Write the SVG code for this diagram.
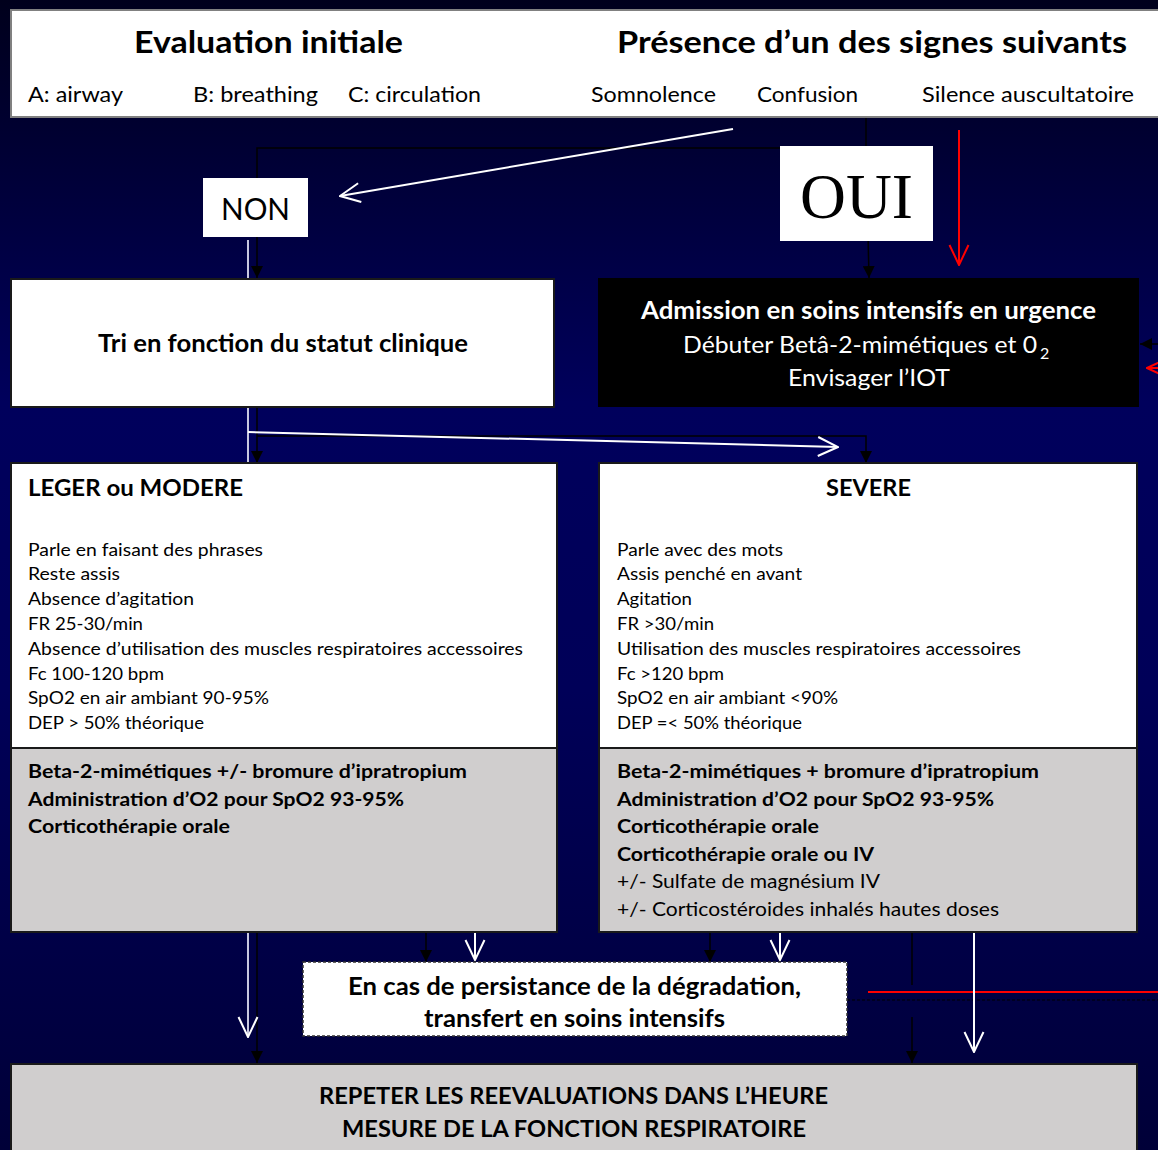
<svg xmlns="http://www.w3.org/2000/svg" width="1158" height="1150" viewBox="0 0 1158 1150">
<style>
.t{font-family:Lato,"Liberation Sans",sans-serif;fill:#000}
.b{font-weight:bold}
.w{fill:#fff}
.box{fill:#fff;stroke:#1a1a1a;stroke-width:2}
.gray{fill:#d0cece;stroke:#1a1a1a;stroke-width:2}
.blk{stroke:#000;stroke-width:1.5;fill:none}
.wl{stroke:#fff;stroke-width:2;fill:none}
.rl{stroke:#ff0000;stroke-width:2;fill:none}
</style>
<defs>
<linearGradient id="bg" x1="0" y1="0" x2="0" y2="1">
<stop offset="0" stop-color="#00001c"/>
<stop offset="0.35" stop-color="#00005c"/>
<stop offset="0.6" stop-color="#000058"/>
<stop offset="1" stop-color="#000038"/>
</linearGradient>
<marker id="ab" viewBox="0 0 12 12" refX="12" refY="6" markerWidth="12" markerHeight="12" markerUnits="userSpaceOnUse" orient="auto">
<path d="M0,0 L12,6 L0,12 Z" fill="#000"/>
</marker>
<marker id="aw" viewBox="0 0 22 22" refX="21" refY="11" markerWidth="22" markerHeight="22" markerUnits="userSpaceOnUse" orient="auto">
<path d="M1,1.5 L21,11 L1,20.5" fill="none" stroke="#fff" stroke-width="2"/>
</marker>
<marker id="ar" viewBox="0 0 22 22" refX="21" refY="11" markerWidth="22" markerHeight="22" markerUnits="userSpaceOnUse" orient="auto">
<path d="M1,1.5 L21,11 L1,20.5" fill="none" stroke="#ff0000" stroke-width="2"/>
</marker>
</defs>
<rect x="0" y="0" width="1158" height="1150" fill="url(#bg)"/>

<g id="connectors">
<polyline class="blk" points="866,117 866,148 257,148 257,178"/>
<line class="blk" x1="866" y1="148" x2="869" y2="278" marker-end="url(#ab)"/>
<line class="blk" x1="257" y1="237" x2="257" y2="278" marker-end="url(#ab)"/>
<line x1="248" y1="240" x2="248" y2="278" stroke="#c8c8e0" stroke-width="2"/>
<line class="wl" x1="733" y1="129" x2="340" y2="196" marker-end="url(#aw)"/>
<line class="rl" x1="959" y1="130" x2="959" y2="265" marker-end="url(#ar)"/>
<line class="blk" x1="1158" y1="344" x2="1140" y2="344" marker-end="url(#ab)"/>
<line class="rl" x1="1170" y1="368" x2="1147" y2="368" marker-end="url(#ar)"/>
<line class="blk" x1="257" y1="407" x2="257" y2="463" marker-end="url(#ab)"/>
<polyline class="blk" points="257,436 866,436 866,463" marker-end="url(#ab)"/>
<line x1="248" y1="407" x2="248" y2="463" stroke="#c8c8e0" stroke-width="2"/>
<line class="wl" x1="248" y1="432" x2="838" y2="447" marker-end="url(#aw)"/>
<line class="blk" x1="257" y1="932" x2="257" y2="1063" marker-end="url(#ab)"/>
<line x1="248" y1="932" x2="248" y2="1037" stroke="#c8c8e0" stroke-width="2" marker-end="url(#aw)"/>
<line class="blk" x1="426" y1="932" x2="426" y2="962" marker-end="url(#ab)"/>
<line class="wl" x1="475" y1="932" x2="475" y2="960" marker-end="url(#aw)"/>
<line class="blk" x1="710" y1="932" x2="710" y2="962" marker-end="url(#ab)"/>
<line class="wl" x1="780" y1="932" x2="780" y2="960" marker-end="url(#aw)"/>
<line class="blk" x1="912" y1="932" x2="912" y2="985"/>
<line class="blk" x1="912" y1="1017" x2="912" y2="1063" marker-end="url(#ab)"/>
<line x1="847" y1="1000" x2="1158" y2="1000" stroke="#000" stroke-width="1" stroke-dasharray="3,2"/>
<line class="rl" x1="868" y1="992" x2="1158" y2="992"/>
<line class="wl" x1="974" y1="932" x2="974" y2="1052" marker-end="url(#aw)"/>
</g>

<g id="evaluation">
<rect x="11" y="10" width="1160" height="107" fill="#fff" stroke="#808080" stroke-width="2"/>
<text class="t b" x="134" y="53" font-size="31" textLength="269" lengthAdjust="spacingAndGlyphs">Evaluation initiale</text>
<text class="t b" x="617" y="53" font-size="31" textLength="510" lengthAdjust="spacingAndGlyphs">Présence d’un des signes suivants</text>
<text class="t" x="28" y="102" font-size="22" textLength="95" lengthAdjust="spacingAndGlyphs">A: airway</text>
<text class="t" x="193" y="102" font-size="22" textLength="125" lengthAdjust="spacingAndGlyphs">B: breathing</text>
<text class="t" x="348" y="102" font-size="22" textLength="133" lengthAdjust="spacingAndGlyphs">C: circulation</text>
<text class="t" x="591" y="102" font-size="22" textLength="125" lengthAdjust="spacingAndGlyphs">Somnolence</text>
<text class="t" x="757" y="102" font-size="22" textLength="101" lengthAdjust="spacingAndGlyphs">Confusion</text>
<text class="t" x="922" y="102" font-size="22" textLength="212" lengthAdjust="spacingAndGlyphs">Silence auscultatoire</text>
</g>

<g id="non">
<rect x="203" y="178" width="105" height="59" fill="#fff"/>
<text class="t" x="221" y="220" font-size="30" textLength="69" lengthAdjust="spacingAndGlyphs">NON</text>
</g>

<g id="oui">
<rect x="780" y="146" width="153" height="95" fill="#fff"/>
<text x="800" y="218" font-family="'Liberation Serif',serif" font-size="64" textLength="113" lengthAdjust="spacingAndGlyphs">OUI</text>
</g>

<g id="tri">
<rect class="box" x="11" y="279" width="543" height="128"/>
<text class="t b" x="98" y="352" font-size="24" textLength="370" lengthAdjust="spacingAndGlyphs">Tri en fonction du statut clinique</text>
</g>

<g id="admission">
<rect x="598" y="278" width="541" height="129" fill="#000"/>
<text class="t b w" x="641" y="319" font-size="24" textLength="455" lengthAdjust="spacingAndGlyphs">Admission en soins intensifs en urgence</text>
<text class="t w" x="683" y="353" font-size="24" textLength="354" lengthAdjust="spacingAndGlyphs">Débuter Betâ-2-mimétiques et 0</text>
<text class="t w" x="1040" y="359" font-size="16">2</text>
<text class="t w" x="788" y="386" font-size="24" textLength="162" lengthAdjust="spacingAndGlyphs">Envisager l’IOT</text>
</g>

<g id="leger">
<rect class="box" x="11" y="463" width="546" height="285"/>
<rect class="gray" x="11" y="748" width="546" height="184"/>
<text class="t b" x="28" y="496" font-size="22" textLength="215" lengthAdjust="spacingAndGlyphs">LEGER ou MODERE</text>
<text class="t" x="28" y="556" font-size="18" textLength="235" lengthAdjust="spacingAndGlyphs">Parle en faisant des phrases</text>
<text class="t" x="28" y="580" font-size="18" textLength="92" lengthAdjust="spacingAndGlyphs">Reste assis</text>
<text class="t" x="28" y="605" font-size="18" textLength="166" lengthAdjust="spacingAndGlyphs">Absence d’agitation</text>
<text class="t" x="28" y="630" font-size="18" textLength="115" lengthAdjust="spacingAndGlyphs">FR 25-30/min</text>
<text class="t" x="28" y="655" font-size="18" textLength="495" lengthAdjust="spacingAndGlyphs">Absence d’utilisation des muscles respiratoires accessoires</text>
<text class="t" x="28" y="680" font-size="18" textLength="136" lengthAdjust="spacingAndGlyphs">Fc 100-120 bpm</text>
<text class="t" x="28" y="704" font-size="18" textLength="241" lengthAdjust="spacingAndGlyphs">SpO2 en air ambiant 90-95%</text>
<text class="t" x="28" y="729" font-size="18" textLength="176" lengthAdjust="spacingAndGlyphs">DEP &gt; 50% théorique</text>
<text class="t b" x="28" y="778" font-size="19" textLength="439" lengthAdjust="spacingAndGlyphs">Beta-2-mimétiques +/- bromure d’ipratropium</text>
<text class="t b" x="28" y="806" font-size="19" textLength="376" lengthAdjust="spacingAndGlyphs">Administration d’O2 pour SpO2 93-95%</text>
<text class="t b" x="28" y="833" font-size="19" textLength="202" lengthAdjust="spacingAndGlyphs">Corticothérapie orale</text>
</g>

<g id="severe">
<rect class="box" x="599" y="463" width="538" height="285"/>
<rect class="gray" x="599" y="748" width="538" height="184"/>
<text class="t b" x="826" y="496" font-size="22" textLength="85" lengthAdjust="spacingAndGlyphs">SEVERE</text>
<text class="t" x="617" y="556" font-size="18" textLength="166" lengthAdjust="spacingAndGlyphs">Parle avec des mots</text>
<text class="t" x="617" y="580" font-size="18" textLength="185" lengthAdjust="spacingAndGlyphs">Assis penché en avant</text>
<text class="t" x="617" y="605" font-size="18" textLength="75" lengthAdjust="spacingAndGlyphs">Agitation</text>
<text class="t" x="617" y="630" font-size="18" textLength="97" lengthAdjust="spacingAndGlyphs">FR &gt;30/min</text>
<text class="t" x="617" y="655" font-size="18" textLength="404" lengthAdjust="spacingAndGlyphs">Utilisation des muscles respiratoires accessoires</text>
<text class="t" x="617" y="680" font-size="18" textLength="107" lengthAdjust="spacingAndGlyphs">Fc &gt;120 bpm</text>
<text class="t" x="617" y="704" font-size="18" textLength="221" lengthAdjust="spacingAndGlyphs">SpO2 en air ambiant &lt;90%</text>
<text class="t" x="617" y="729" font-size="18" textLength="185" lengthAdjust="spacingAndGlyphs">DEP =&lt; 50% théorique</text>
<text class="t b" x="617" y="778" font-size="19" textLength="422" lengthAdjust="spacingAndGlyphs">Beta-2-mimétiques + bromure d’ipratropium</text>
<text class="t b" x="617" y="806" font-size="19" textLength="377" lengthAdjust="spacingAndGlyphs">Administration d’O2 pour SpO2 93-95%</text>
<text class="t b" x="617" y="833" font-size="19" textLength="202" lengthAdjust="spacingAndGlyphs">Corticothérapie orale</text>
<text class="t b" x="617" y="861" font-size="19" textLength="257" lengthAdjust="spacingAndGlyphs">Corticothérapie orale ou IV</text>
<text class="t" x="617" y="888" font-size="19" textLength="263" lengthAdjust="spacingAndGlyphs">+/- Sulfate de magnésium IV</text>
<text class="t" x="617" y="916" font-size="19" textLength="382" lengthAdjust="spacingAndGlyphs">+/- Corticostéroides inhalés hautes doses</text>
</g>

<g id="transfert">
<rect x="303" y="962" width="544" height="74" fill="#fff" stroke="#333" stroke-width="1.5" stroke-dasharray="3,2"/>
<text class="t b" x="348" y="995" font-size="24" textLength="453" lengthAdjust="spacingAndGlyphs">En cas de persistance de la dégradation,</text>
<text class="t b" x="424" y="1027" font-size="24" textLength="301" lengthAdjust="spacingAndGlyphs">transfert en soins intensifs</text>
</g>

<g id="repeter">
<rect class="gray" x="11" y="1064" width="1126" height="100"/>
<text class="t b" x="319" y="1104" font-size="23" textLength="509" lengthAdjust="spacingAndGlyphs">REPETER LES REEVALUATIONS DANS L’HEURE</text>
<text class="t b" x="342" y="1137" font-size="23" textLength="464" lengthAdjust="spacingAndGlyphs">MESURE DE LA FONCTION RESPIRATOIRE</text>
</g>
</svg>
